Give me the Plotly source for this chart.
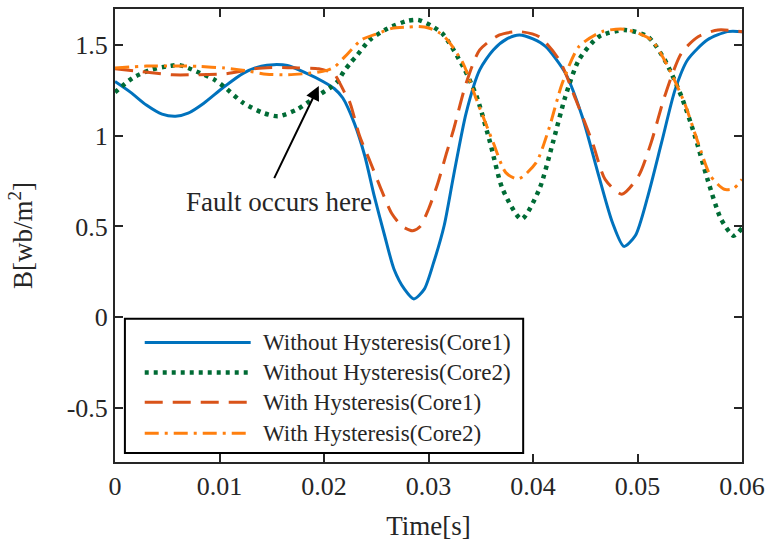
import plotly.graph_objects as go

# Time samples (ms) and flux density B (Wb/m^2) for each simulated case
t_wo_c1 = [0, 1.5, 3.0, 4.5, 5.8, 7.0, 8.5, 10.3, 12.3, 14.0, 15.2, 16.5, 18.3, 19.9, 21.0, 21.8,
           22.9, 23.9, 24.8, 25.8, 26.7, 27.7, 28.6, 29.6, 30.5, 31.5, 32.4, 33.6, 34.9, 36.2,
           37.5, 38.7, 40.0, 41.2, 43.1, 44.7, 46.3, 47.6, 48.7, 49.8, 51.0, 52.3, 53.6, 54.8,
           56.7, 58.6, 60.0]
b_wo_c1 = [1.30, 1.24, 1.17, 1.12, 1.108, 1.125, 1.18, 1.264, 1.346, 1.385, 1.393, 1.388, 1.346,
           1.30, 1.26, 1.209, 1.07, 0.89, 0.67, 0.45, 0.264, 0.154, 0.10, 0.154, 0.302, 0.505,
           0.78, 1.126, 1.364, 1.474, 1.535, 1.557, 1.535, 1.493, 1.346, 1.108, 0.778, 0.522,
           0.39, 0.45, 0.669, 0.962, 1.255, 1.42, 1.53, 1.575, 1.575]

t_wo_c2 = [0, 1.7, 3.4, 5.3, 6.2, 7.8, 9.5, 10.4, 12.3, 14.2, 15.6, 17.4, 19.3, 20.7, 21.3, 21.9,
           22.5, 23.2, 24.4, 26.1, 28.0, 29.0, 30.2, 31.4, 33.3, 34.6, 35.9, 37.1, 38.9, 40.6,
           41.9, 43.1, 44.4, 46.3, 48.8, 51.0, 52.6, 54.2, 55.5, 56.7, 58.0, 59.2, 60.0]
b_wo_c2 = [1.24, 1.32, 1.364, 1.386, 1.39, 1.355, 1.31, 1.273, 1.181, 1.126, 1.108, 1.145, 1.218,
           1.27, 1.30, 1.355, 1.40, 1.447, 1.53, 1.593, 1.635, 1.64, 1.61, 1.56, 1.383, 1.218,
           0.962, 0.705, 0.54, 0.705, 0.962, 1.218, 1.42, 1.547, 1.584, 1.547, 1.42, 1.218,
           0.998, 0.76, 0.54, 0.449, 0.49]

t_w_c1 = [0, 2.5, 5.5, 7.5, 10.5, 13.5, 15.5, 17.5, 19.5, 20.5, 21.0, 22.0, 22.5, 23.4, 24.4,
          25.5, 26.5, 27.5, 28.5, 29.2, 30.0, 30.9, 31.7, 32.4, 33.6, 34.9, 36.8, 38.7, 40.6,
          42.5, 44.1, 45.7, 46.9, 48.5, 50.1, 51.3, 52.6, 54.2, 55.8, 57.7, 60.0]
b_w_c1 = [1.37, 1.355, 1.337, 1.337, 1.342, 1.372, 1.378, 1.375, 1.37, 1.355, 1.34, 1.236, 1.18,
          1.0, 0.86, 0.70, 0.57, 0.50, 0.476, 0.50, 0.595, 0.74, 0.90, 1.035, 1.29, 1.474, 1.557,
          1.575, 1.547, 1.42, 1.199, 0.962, 0.76, 0.678, 0.778, 0.962, 1.218, 1.456, 1.547,
          1.584, 1.575]

t_w_c2 = [0, 3.0, 5.5, 8.0, 10.5, 12.5, 14.5, 16.5, 18.5, 20.2, 21.0, 22.0, 23.6, 25.2, 26.5,
          28.0, 29.0, 30.0, 31.0, 31.8, 33.3, 34.6, 36.2, 37.4, 38.6, 40.3, 41.5, 42.8, 44.4,
          46.6, 48.8, 51.3, 52.9, 54.5, 55.8, 57.0, 58.3, 59.2, 60.0]
b_w_c2 = [1.374, 1.385, 1.386, 1.383, 1.374, 1.36, 1.34, 1.337, 1.345, 1.36, 1.38, 1.437, 1.53,
          1.566, 1.593, 1.60, 1.603, 1.595, 1.57, 1.53, 1.401, 1.199, 0.962, 0.797, 0.762, 0.852,
          1.035, 1.29, 1.493, 1.575, 1.588, 1.53, 1.383, 1.181, 0.962, 0.778, 0.705, 0.71, 0.76]

names = ["Without Hysteresis(Core1)", "Without Hysteresis(Core2)",
         "With Hysteresis(Core1)", "With Hysteresis(Core2)"]
x_ticks = [0, 0.01, 0.02, 0.03, 0.04, 0.05, 0.06]
y_ticks = [-0.5, 0, 0.5, 1, 1.5]

styles = [
    dict(color="#0072BD", width=3, dash="solid"),
    dict(color="#006B35", width=4.5, dash="4px,5px"),
    dict(color="#D95319", width=3, dash="18px,10px"),
    dict(color="#FF7F0E", width=3, dash="14px,6px,3px,6px"),
]

series = [(t_wo_c1, b_wo_c1), (t_wo_c2, b_wo_c2), (t_w_c1, b_w_c1), (t_w_c2, b_w_c2)]

fig = go.Figure()
for (t, b), name, st in zip(series, names, styles):
    fig.add_trace(go.Scatter(
        x=[v / 1000 for v in t], y=b, mode="lines", name=name,
        line=dict(shape="spline", smoothing=0.7, **st), showlegend=False,
    ))

FONT = "Liberation Serif, Times New Roman, serif"
AX = "#262626"

# Legend drawn as a boxed panel inside the axes
lx0, lx1, ly0, ly1 = 0.0158, 0.651, 0.0198, 0.3165
rows = [0.2637, 0.1978, 0.1319, 0.0637]
shapes = [dict(type="rect", xref="paper", yref="paper", x0=lx0, x1=lx1, y0=ly0, y1=ly1,
               line=dict(color="black", width=2), fillcolor="white", layer="above")]
annotations = []
for yy, name, st in zip(rows, names, styles):
    shapes.append(dict(type="line", xref="paper", yref="paper", x0=0.0474, x1=0.2164,
                       y0=yy, y1=yy, line=dict(st), layer="above"))
    annotations.append(dict(xref="paper", yref="paper", x=0.2322, y=yy, text=name,
                            showarrow=False, xanchor="left", yanchor="middle",
                            font=dict(family=FONT, size=23, color="#262626")))

# Fault marker
annotations.append(dict(x=0.0195, y=1.275, ax=0.01517, ay=0.758, xref="x", yref="y",
                        axref="x", ayref="y", text="", showarrow=True, arrowhead=2,
                        arrowsize=1.4, arrowwidth=2, arrowcolor="black", standoff=0))
annotations.append(dict(x=0.01573, y=0.637, xref="x", yref="y", text="Fault occurs here",
                        showarrow=False, xanchor="center", yanchor="middle",
                        font=dict(family=FONT, size=27, color="#262626")))

fig.update_layout(
    width=772, height=552,
    margin=dict(l=115, r=24, t=7, b=90),
    paper_bgcolor="white", plot_bgcolor="white",
    font=dict(family=FONT, size=26, color=AX),
    shapes=shapes, annotations=annotations,
)
fig.update_xaxes(
    range=[0, 0.06], tickvals=x_ticks, ticktext=[f"{v:g}" for v in x_ticks],
    ticks="inside", ticklen=8, tickwidth=2, tickcolor=AX,
    showline=True, linecolor=AX, linewidth=2, mirror="allticks",
    showgrid=False, zeroline=False,
    title=dict(text="Time[s]", font=dict(size=27), standoff=16),
    tickfont=dict(size=26),
)
fig.update_yaxes(
    range=[-0.8, 1.7], tickvals=y_ticks, ticktext=[f"{v:g}" for v in y_ticks],
    ticks="inside", ticklen=8, tickwidth=2, tickcolor=AX,
    showline=True, linecolor=AX, linewidth=2, mirror="allticks",
    showgrid=False, zeroline=False,
    title=dict(text="B[wb/m<sup>2</sup>]", font=dict(size=27), standoff=26),
    tickfont=dict(size=26),
)

fig.write_html("out.html")
